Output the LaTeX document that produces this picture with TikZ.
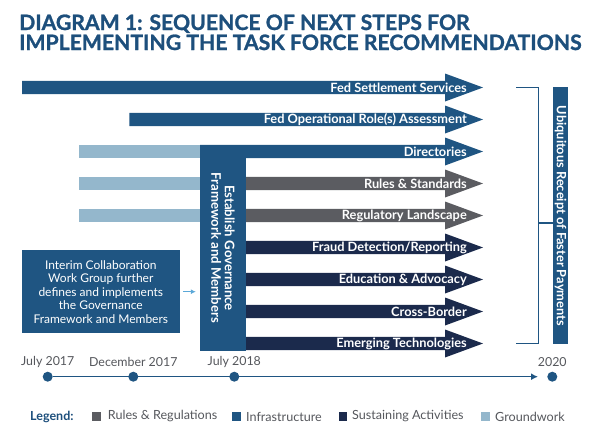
\documentclass[tikz,border=0pt]{standalone}
\usepackage{fontspec}
\setmainfont{Lato}
\newfontfamily\heavyfont{Lato}[BoldFeatures={FakeBold=1.2}]
\usetikzlibrary{positioning,arrows.meta}

\definecolor{infra}{HTML}{1F5582}
\definecolor{sustain}{HTML}{1B2A4C}
\definecolor{rules}{HTML}{5B5C61}
\definecolor{ground}{HTML}{94B7CC}
\definecolor{titleblue}{HTML}{1D4F7C}
\definecolor{pointer}{HTML}{5BA8D8}
\definecolor{datetext}{HTML}{55575C}

\tikzset{
  steplabel/.style={anchor=east, text=white, inner sep=0pt, font=\bfseries\fontsize{12.8}{14}\selectfont},
  govbox/.style={fill=infra, inner sep=0pt},
  boxtext/.style={text=white, align=center, inner sep=0pt},
  datelabel/.style={text=datetext, inner sep=0pt, font=\fontsize{12.4}{14}\selectfont},
  datedot/.style={circle, fill=infra, minimum size=10pt, inner sep=0pt},
  legendbox/.style={fill=#1, minimum size=8.5pt, inner sep=0pt},
  legendtext/.style={text=datetext, anchor=west, inner sep=0pt, font=\fontsize{12.6}{14}\selectfont},
}

% one step: bar from #2 to the head, label at the right end
\newcommand{\steparrow}[5]{%
  \fill[#4] (#2,#3-6.7) -- (445,#3-6.7) -- (445,#3-14) -- (483,#3)
    -- (445,#3+14) -- (445,#3+6.7) -- (#2,#3+6.7) -- cycle;
  \node[steplabel] (#1) at (467,#3) {#5};
}

\begin{document}
\begin{tikzpicture}[x=1pt,y=-1pt]
  \useasboundingbox (0,0) rectangle (600,442);

  % Titre
  \node[anchor=base west, inner sep=0pt, text=titleblue, font=\heavyfont\bfseries\fontsize{21.2}{21}\selectfont]
    (title1) at (19,30) {DIAGRAM 1: SEQUENCE OF NEXT STEPS FOR};
  \node[anchor=base west, inner sep=0pt, text=titleblue, font=\heavyfont\bfseries\fontsize{21.2}{21}\selectfont]
    (title2) at (19,50) {IMPLEMENTING THE TASK FORCE RECOMMENDATIONS};

  % Barres de travail preparatoire
  \foreach \row in {2,3,4}
    \fill[ground] (78.7,87.5+32*\row-6.7) rectangle (200,87.5+32*\row+6.7);

  % Les fleches des etapes
  \foreach \name/\xs/\row/\col/\txt in {
      settle/22/0/infra/Fed Settlement Services,
      operate/129.3/1/infra/Fed Operational Role(s) Assessment,
      direct/200/2/infra/Directories,
      rules/200/3/rules/Rules \& Standards,
      regul/200/4/rules/Regulatory Landscape,
      fraud/200/5/sustain/{Fraud Detection/Reporting},
      educ/200/6/sustain/Education \& Advocacy,
      cross/200/7/sustain/Cross-Border,
      emerg/200/8/sustain/Emerging Technologies}
    \steparrow{\name}{\xs}{87.5+32*\row}{\col}{\txt};

  % Bloc gouvernance
  \node[govbox, minimum width=46pt, minimum height=206pt] (gov) at (223,248) {};
  \node[boxtext, rotate=-90, font=\bfseries\fontsize{13.2}{13.5}\selectfont] (govtext) at (gov)
    {Establish Governance\\Framework and Members};

  % Groupe de travail interimaire
  \node[govbox, minimum width=158pt, minimum height=83pt] (interim) at (100.8,291.7) {};
  \node[boxtext, font=\fontsize{12}{13.5}\selectfont] (interimtext) at (interim)
    {Interim Collaboration\\Work Group further\\defines and implements\\the Governance\\Framework and Members};
  \draw[pointer, line width=1.3pt, -{Latex[length=5pt,width=5pt]}]
    ([xshift=3pt]interim.east) -- ([xshift=-4pt]gov.west |- interim.east);

  % Resultat final
  \node[govbox, minimum width=14.4pt, minimum height=257pt] (ubiq) at (560.5,215.7) {};
  \node[boxtext, rotate=-90, font=\bfseries\fontsize{12.8}{13}\selectfont] (ubiqtext) at (ubiq)
    {Ubiquitous Receipt of Faster Payments};

  % Accolade
  \coordinate (bracetop) at (516,87.5);
  \coordinate (bracebot) at (516,343.5);
  \coordinate (bracemid) at (538.3,223);
  \draw[infra, line width=1.2pt] (bracetop) -| (bracemid) |- (bracebot);
  \draw[infra, line width=1.2pt] (bracemid) -- (bracemid -| ubiq.west);

  % Ligne du temps
  \node[datedot] (t1) at (47.7,376.7) {};
  \node[datedot] (t2) at (133.3,376.7) {};
  \node[datedot] (t3) at (234.3,376.7) {};
  \node[datedot] (t4) at (552.3,376.7) {};
  \coordinate (tend) at (538,376.7);
  \draw[infra, line width=1.5pt, -{Latex[length=7pt,width=7pt]}] (t1) -- (tend);
  \node[datelabel] at (47.7,362) {July 2017};
  \node[datelabel] at (133.3,362) {December 2017};
  \node[datelabel] at (234.3,362) {July 2018};
  \node[datelabel] at (552.3,362) {2020};

  % Legende
  \node[legendtext, text=titleblue, font=\bfseries\fontsize{12.5}{14}\selectfont] (legend) at (30,416.5) {Legend:};
  \node[legendbox=rules] (kr) at (96.5,416.5) {};
  \node[legendtext] at (107.7,416.5) {Rules \& Regulations};
  \node[legendbox=infra] (ki) at (236.5,416.5) {};
  \node[legendtext] at (246,416.5) {Infrastructure};
  \node[legendbox=sustain] (ks) at (343,416.5) {};
  \node[legendtext] at (352,416.5) {Sustaining Activities};
  \node[legendbox=ground] (kg) at (485.5,416.5) {};
  \node[legendtext] at (495,416.5) {Groundwork};
\end{tikzpicture}
\end{document}
